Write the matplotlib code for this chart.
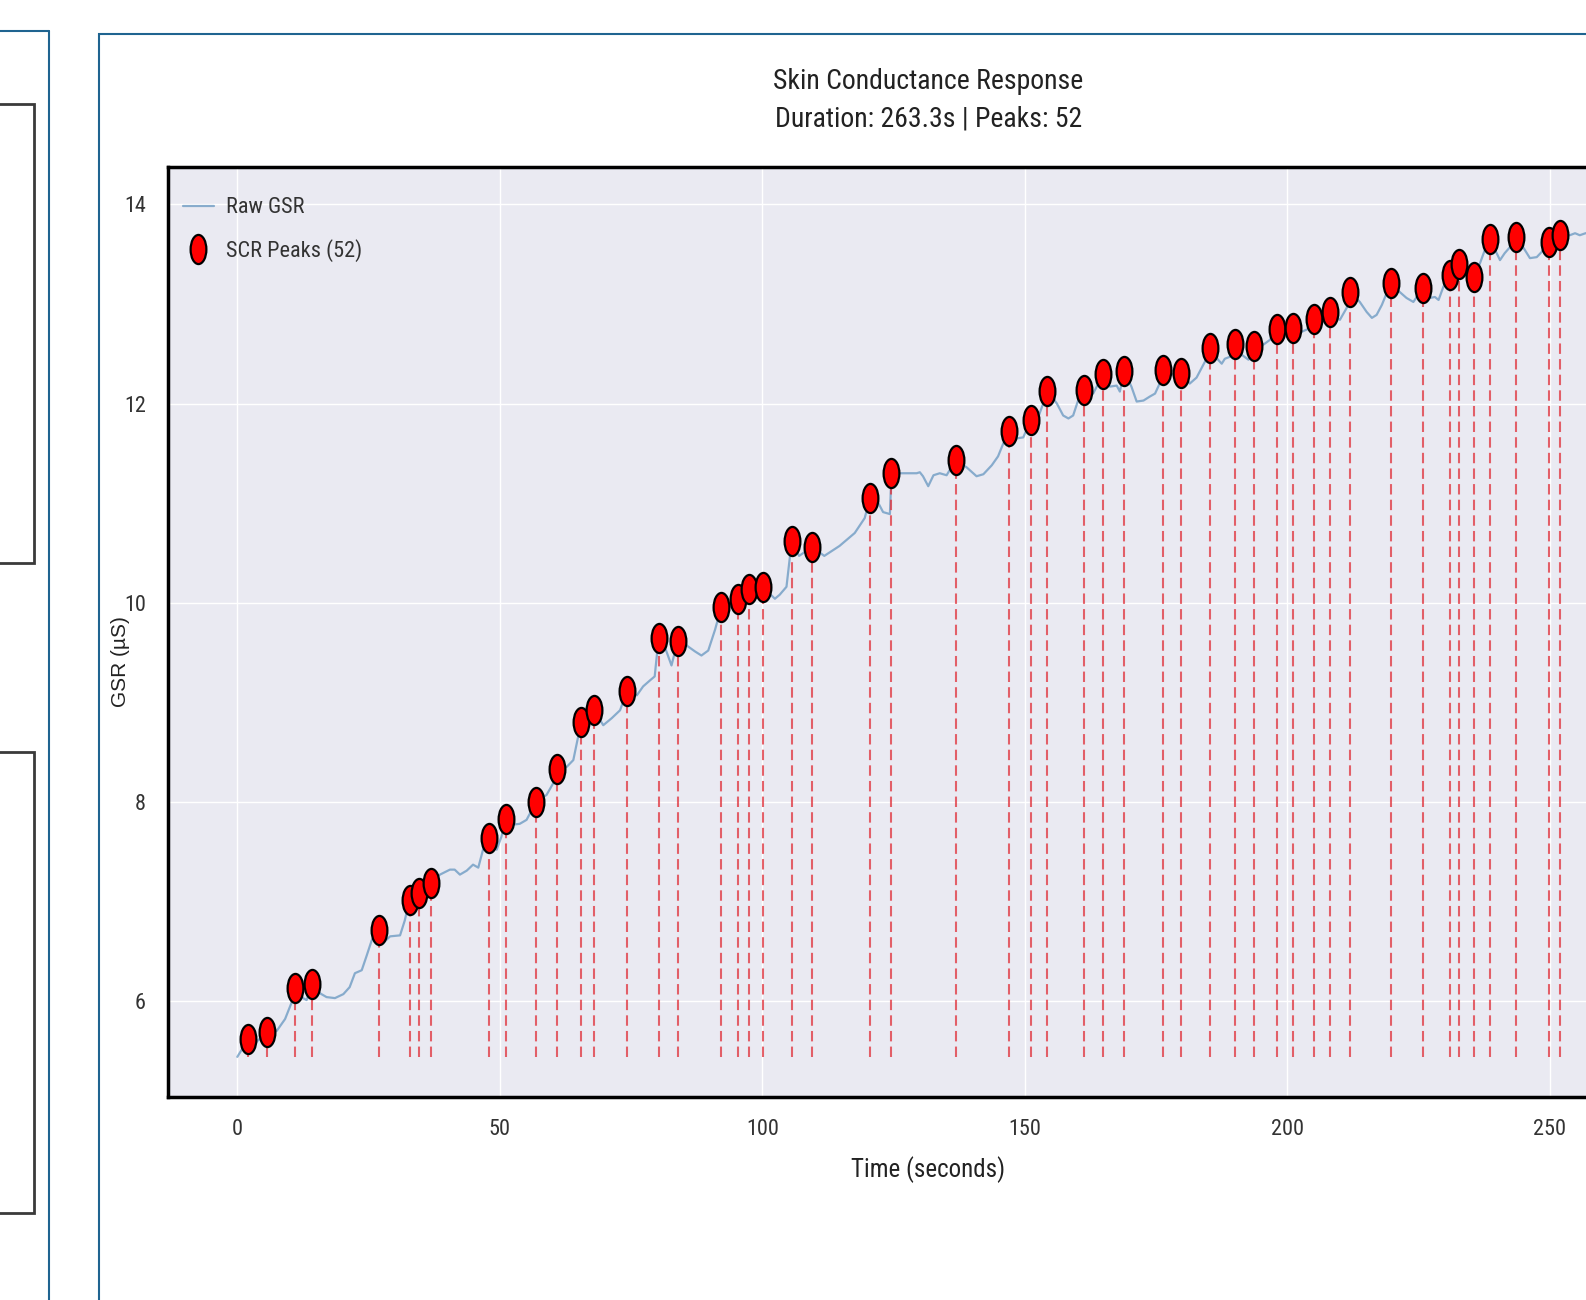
import matplotlib
matplotlib.use("Agg")
import matplotlib.pyplot as plt
from matplotlib.patches import Rectangle
from matplotlib.lines import Line2D
from matplotlib.path import Path
from matplotlib.transforms import Affine2D

# raw GSR trace (seconds, microsiemens)
time = [0.0, 2.1, 3.0, 5.7, 7.5, 9.1, 10.3, 11.0, 12.2, 13.2, 14.3, 15.7, 17.0, 18.6, 20.2,
        21.4, 22.4, 23.7, 24.6, 25.6, 26.9, 28.1, 29.1, 31.0, 31.9, 32.8, 33.8, 34.6, 35.7,
        36.8, 38.6, 40.5, 41.4, 42.4, 43.7, 44.9, 45.9, 46.8, 47.9, 49.4, 50.3, 51.1, 52.2,
        53.8, 55.1, 56.9, 58.9, 60.2, 60.9, 62.7, 64.0, 64.9, 65.4, 66.5, 68.0, 69.7, 71.3,
        72.9, 74.2, 76.1, 77.3, 78.6, 79.5, 80.25, 81.4, 82.7, 83.9, 85.6, 87.2, 88.4, 89.7,
        91.0, 92.2, 93.8, 95.3, 97.4, 98.6, 100.1, 101.4, 102.4, 103.3, 104.6, 105.6, 107.0,
        109.5, 111.8, 114.7, 117.6, 119.5, 120.5, 122.1, 123.0, 124.3, 124.6, 126.8, 129.4,
        130.0, 130.6, 131.6, 132.6, 133.8, 135.1, 136.8, 138.9, 140.8, 142.1, 143.7, 144.9,
        145.9, 147.0, 148.4, 149.7, 151.1, 152.6, 153.5, 154.3, 156.1, 157.3, 158.3, 159.2,
        160.2, 161.3, 163.0, 164.0, 164.8, 166.2, 167.5, 168.1, 168.9, 170.3, 171.3, 172.6,
        173.8, 174.8, 175.5, 176.4, 178.0, 179.7, 181.4, 182.7, 184.3, 185.3, 186.8, 187.5,
        188.1, 189.1, 190.0, 191.3, 192.6, 193.7, 195.4, 196.7, 198.0, 199.5, 201.0, 202.7,
        204.0, 205.1, 206.5, 208.2, 210.0, 211.3, 212.0, 213.8, 215.1, 216.1, 217.0, 218.0,
        219.7, 221.4, 222.7, 224.0, 225.8, 227.2, 228.1, 228.8, 229.7, 230.9, 232.6, 233.8,
        235.5, 236.7, 237.6, 238.6, 240.5, 241.4, 242.4, 243.6, 244.9, 246.2, 247.5, 248.4,
        249.9, 252.0, 253.8, 254.8, 255.7, 256.8, 258.5, 259.5, 261.0, 263.3]
gsr = [5.44, 5.62, 5.56, 5.69, 5.70, 5.82, 5.98, 6.13, 6.04, 6.01, 6.17, 6.08, 6.04, 6.03, 6.07,
       6.14, 6.28, 6.31, 6.45, 6.61, 6.71, 6.60, 6.65, 6.66, 6.81, 7.02, 7.01, 7.09, 7.10,
       7.19, 7.27, 7.32, 7.32, 7.27, 7.31, 7.37, 7.34, 7.52, 7.64, 7.52, 7.65, 7.83, 7.77,
       7.78, 7.82, 8.00, 8.07, 8.19, 8.33, 8.35, 8.42, 8.65, 8.80, 8.86, 8.92, 8.77, 8.84,
       8.92, 9.11, 9.07, 9.16, 9.22, 9.26, 9.65, 9.56, 9.37, 9.62, 9.57, 9.51, 9.47, 9.52,
       9.73, 9.96, 9.96, 10.04, 10.14, 10.11, 10.16, 10.09, 10.04, 10.08, 10.16, 10.62, 10.47,
       10.56, 10.47, 10.57, 10.70, 10.85, 11.05, 11.00, 10.91, 10.89, 11.30, 11.30, 11.30,
       11.31, 11.27, 11.17, 11.28, 11.30, 11.28, 11.43, 11.36, 11.27, 11.29, 11.38, 11.47,
       11.60, 11.72, 11.65, 11.66, 11.83, 11.87, 12.00, 12.13, 12.00, 11.88, 11.85, 11.88,
       12.04, 12.14, 12.10, 12.20, 12.30, 12.17, 12.18, 12.12, 12.33, 12.17, 12.02, 12.03,
       12.07, 12.10, 12.18, 12.34, 12.29, 12.31, 12.20, 12.26, 12.42, 12.56, 12.44, 12.40,
       12.45, 12.47, 12.60, 12.49, 12.44, 12.58, 12.59, 12.64, 12.75, 12.72, 12.76, 12.72,
       12.75, 12.85, 12.81, 12.92, 12.84, 12.96, 13.12, 13.02, 12.92, 12.86, 12.89, 12.99,
       13.21, 13.12, 13.06, 13.02, 13.16, 13.06, 13.07, 13.04, 13.17, 13.29, 13.40, 13.29,
       13.27, 13.41, 13.54, 13.65, 13.44, 13.51, 13.57, 13.67, 13.57, 13.46, 13.47, 13.52,
       13.62, 13.69, 13.69, 13.71, 13.69, 13.71, 13.72, 13.75, 13.73, 13.76]

# detected SCR peaks
peak_t = [2.1, 5.7, 11.0, 14.3, 26.9, 32.8, 34.6, 36.8, 47.9, 51.1, 56.9, 60.9, 65.4, 68.0,
          74.2, 80.25, 83.9, 92.2, 95.3, 97.4, 100.1, 105.6, 109.5, 120.5, 124.6, 136.8,
          147.0, 151.1, 154.3, 161.3, 164.8, 168.9, 176.4, 179.7, 185.3, 190.0, 193.7, 198.0,
          201.0, 205.1, 208.2, 212.0, 219.7, 225.8, 230.9, 232.6, 235.5, 238.6, 243.6, 249.9,
          252.0, 259.5]
peak_v = [5.62, 5.69, 6.13, 6.17, 6.71, 7.02, 7.09, 7.19, 7.64, 7.83, 8.00, 8.33, 8.80, 8.92,
          9.11, 9.65, 9.62, 9.96, 10.04, 10.14, 10.16, 10.62, 10.56, 11.05, 11.30, 11.43,
          11.72, 11.83, 12.13, 12.14, 12.30, 12.33, 12.34, 12.31, 12.56, 12.60, 12.58, 12.75,
          12.76, 12.85, 12.92, 13.12, 13.21, 13.16, 13.29, 13.40, 13.27, 13.65, 13.67, 13.62,
          13.69, 13.75]

x_ticks = [0, 50, 100, 150, 200, 250]
y_ticks = [6, 8, 10, 12, 14]

plt.style.use("seaborn-v0_8-darkgrid")
plt.rcParams["font.family"] = ["Roboto Condensed", "Liberation Sans Narrow",
                               "DejaVu Sans Condensed", "Liberation Sans", "DejaVu Sans"]
plt.rcParams["font.stretch"] = "condensed"

W, H = 1586, 1300
fig = plt.figure(figsize=(W / 100, H / 100), dpi=100)
fig.patch.set_facecolor("white")

def fx(x):
    return x / W

def fy(y):
    return 1 - y / H

# page frames around the chart (screenshot chrome)
blue = "#1f6490"
fig.add_artist(Line2D([fx(49), fx(49)], [fy(31), fy(1310)], color=blue, lw=1.5, transform=fig.transFigure))
fig.add_artist(Line2D([fx(-5), fx(49)], [fy(31), fy(31)], color=blue, lw=1.5, transform=fig.transFigure))
for top, bot in [(104, 563), (752, 1213)]:
    fig.add_artist(Rectangle((fx(-10), fy(bot)), fx(44), (bot - top) / H, fill=False,
                             ec="#3a3a3a", lw=2, transform=fig.transFigure))
fig.add_artist(Rectangle((fx(99), fy(1320)), fx(1600), (1320 - 34) / H, fill=False,
                         ec=blue, lw=1.5, transform=fig.transFigure))

ax = fig.add_axes([fx(168), fy(1097), fx(1689 - 168), (1097 - 167) / H])

ellipse = Path.unit_circle().transformed(Affine2D().scale(1, 1.85))

ax.plot(time, gsr, color="steelblue", alpha=0.6, lw=1.6, label="Raw GSR", zorder=2)
ax.vlines(peak_t, min(gsr), peak_v, colors="#e0303a", alpha=0.75,
          linestyles=(0, (5, 2.5)), lw=1.5, zorder=3)
ax.plot(peak_t, peak_v, ls="none", marker=ellipse, ms=21, mfc="red", mec="black",
        mew=1.6, label=f"SCR Peaks ({len(peak_t)})", zorder=4)

ax.set_xlim(-13.2, 276.5)
ax.set_ylim(5.037, 14.375)
ax.set_xticks(x_ticks)
ax.set_yticks(y_ticks)
ax.tick_params(axis="both", labelsize=16, labelcolor="#333333", length=0)
ax.tick_params(axis="y", pad=16)
ax.tick_params(axis="x", pad=16)
ax.grid(True, color="white", lw=1)
for s in ax.spines.values():
    s.set_visible(True)
    s.set_color("black")
    s.set_linewidth(2.5)

ax.set_title(f"Skin Conductance Response\nDuration: {time[-1]:.1f}s | Peaks: {len(peak_t)}",
             fontsize=20, pad=29, linespacing=1.5, color="#222222")
ax.set_xlabel("Time (seconds)", fontsize=18, color="#222222")
ax.xaxis.set_label_coords(0.5, -0.064)
ax.set_ylabel("GSR (µS)", fontsize=15, color="#222222",
              family=["Liberation Sans", "DejaVu Sans"], stretch="normal")
ax.yaxis.set_label_coords(-0.025, 0.468)

leg = ax.legend(loc="upper left", bbox_to_anchor=(0.0037, 0.977), borderaxespad=0,
                frameon=False, fontsize=16, handlelength=1.4, handletextpad=0.55,
                labelspacing=0.95)
for t in leg.get_texts():
    t.set_color("#333333")

fig.savefig("out.png", dpi=100)
